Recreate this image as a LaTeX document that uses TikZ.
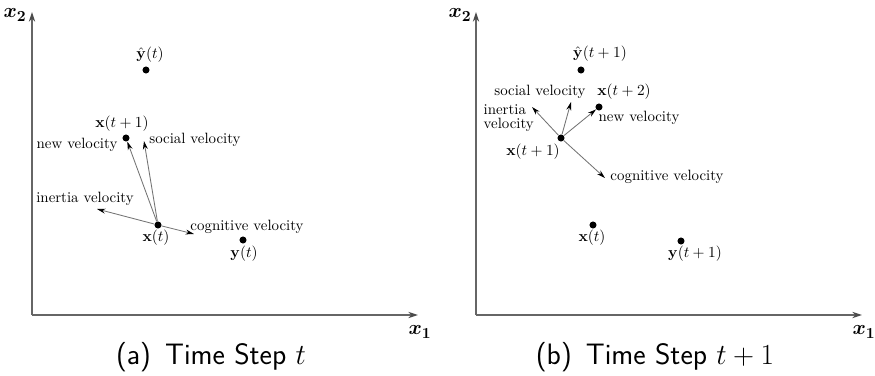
\documentclass[tikz,border=0pt]{standalone}
\usepackage{amsmath,amssymb}
\usepackage{bm}
\usetikzlibrary{arrows.meta,positioning}

\begin{document}
\begin{tikzpicture}[
    x=0.025cm, y=-0.025cm,
    dot/.style={circle, fill=black, inner sep=0pt, minimum size=5pt},
    lbl/.style={inner sep=1pt, font=\fontsize{10.6}{12}\selectfont},
    axlbl/.style={inner sep=1pt, font=\fontsize{15}{17}\selectfont},
    vec/.style={-{Stealth[length=6pt, width=3.5pt, black]}, draw=black!55, semithick},
    axis/.style={-{Stealth[length=7pt, width=4.5pt, black!70]}, draw=black!60, thick},
    caption/.style={inner sep=0pt, font=\fontsize{21}{24}\selectfont\sffamily}
]
\useasboundingbox (0,0) rectangle (875,375);

% (a) time step t
\coordinate (oa) at (32,315);
\coordinate (ya) at (32,12);
\coordinate (xa) at (418,315);
\draw[axis] (oa) -- (ya);
\draw[axis] (oa) -- (xa);
\node[axlbl] (xtwoa) at (15,15) {$\bm{x_2}$};
\node[axlbl] (xonea) at (420,332) {$\bm{x_1}$};

\node[dot] (yhat) at (146,70) {};
\node[dot] (xnext) at (126,138) {};
\node[dot] (xnow) at (158,225) {};
\node[dot] (ybest) at (243,240) {};
\coordinate (socA) at (144,141);
\coordinate (inA) at (97,209);
\coordinate (cogA) at (194,234);

\draw[vec] (xnow) -- (xnext);
\draw[vec] (xnow) -- (socA);
\draw[vec] (xnow) -- (inA);
\draw[vec] (xnow) -- (cogA);

\node[lbl] (lyhat) at (150,55) {$\hat{\mathbf{y}}(t)$};
\node[lbl] (lxnext) at (122,124) {$\mathbf{x}(t+1)$};
\node[lbl] (lnewA) at (77,145) {new velocity};
\node[lbl] (lsocA) at (195,140) {social velocity};
\node[lbl] (linA) at (85,199) {inertia velocity};
\node[lbl] (lcogA) at (247,227) {cognitive velocity};
\node[lbl] (lxnow) at (156,238) {$\mathbf{x}(t)$};
\node[lbl] (lybest) at (244,254) {$\mathbf{y}(t)$};

\node[caption] (capA) at (211,357) {(a)\, Time Step $t$};

% (b) time step t+1
\coordinate (ob) at (476,315);
\coordinate (yb) at (476,12);
\coordinate (xb) at (862,315);
\draw[axis] (ob) -- (yb);
\draw[axis] (ob) -- (xb);
\node[axlbl] (xtwob) at (460,15) {$\bm{x_2}$};
\node[axlbl] (xoneb) at (864,332) {$\bm{x_1}$};

\node[dot] (yhatB) at (581,70) {};
\node[dot] (xnextB) at (561,138) {};
\node[dot] (xnextnext) at (599,107) {};
\node[dot] (xnowB) at (593,225) {};
\node[dot] (ybestB) at (681,241) {};
\coordinate (socB) at (571,102);
\coordinate (inB) at (532,107);
\coordinate (cogB) at (605,178);

\draw[vec] (xnextB) -- (xnextnext);
\draw[vec] (xnextB) -- (socB);
\draw[vec] (xnextB) -- (inB);
\draw[vec] (xnextB) -- (cogB);

\node[lbl] (lyhatB) at (600,54) {$\hat{\mathbf{y}}(t+1)$};
\node[lbl] (lsocB) at (540,92) {social velocity};
\node[lbl] (lxnn) at (624,92) {$\mathbf{x}(t+2)$};
\node[lbl, align=left, anchor=west, font=\fontsize{10.6}{9.5}\selectfont] (linB) at (482,118) {inertia\\velocity};
\node[lbl] (lnewB) at (639,118) {new velocity};
\node[lbl] (lxnextB) at (533,152) {$\mathbf{x}(t+1)$};
\node[lbl] (lcogB) at (667,177) {cognitive velocity};
\node[lbl] (lxnowB) at (592,238) {$\mathbf{x}(t)$};
\node[lbl] (lybestB) at (695,254) {$\mathbf{y}(t+1)$};

\node[caption] (capB) at (655,357) {(b)\, Time Step $t+1$};
\end{tikzpicture}
\end{document}
